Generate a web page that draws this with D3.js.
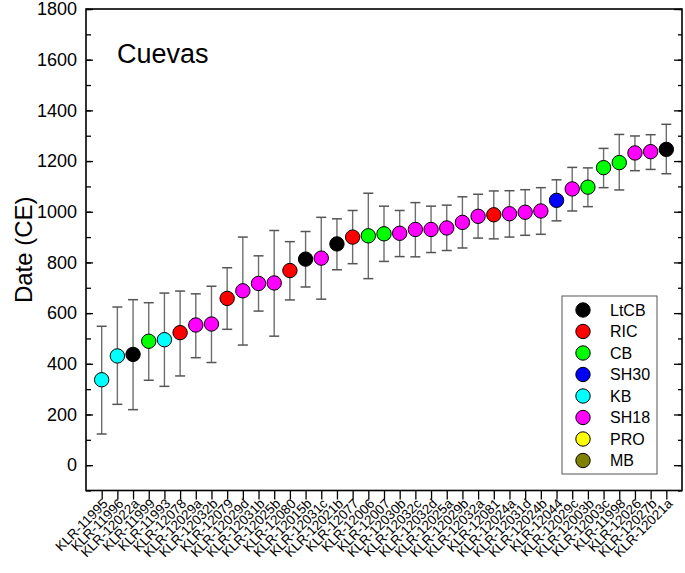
<!DOCTYPE html>
<html>
<head>
<meta charset="utf-8">
<script src="https://cdn.jsdelivr.net/npm/d3@7"></script>
<style>
  body { margin: 0; background: #fff; }
  svg { font-family: "Liberation Sans", Arial, sans-serif; }
</style>
</head>
<body>
<svg width="685" height="573"></svg>
<script>
// sample ids, in plotted order
const samples = [
  "KLR-11995", "KLR-11996", "KLR-12022a", "KLR-11999", "KLR-11993", "KLR-12078",
  "KLR-12029a", "KLR-12032b", "KLR-12079", "KLR-12029d", "KLR-12031b", "KLR-12025b",
  "KLR-12080", "KLR-12015b", "KLR-12031c", "KLR-12021b", "KLR-12077", "KLR-12006",
  "KLR-12007", "KLR-12030b", "KLR-12032c", "KLR-12032d", "KLR-12025a", "KLR-12029b",
  "KLR-12032a", "KLR-12081", "KLR-12024a", "KLR-12031d", "KLR-12024b", "KLR-12044",
  "KLR-12029c", "KLR-12003b", "KLR-12003c", "KLR-11998", "KLR-12026", "KLR-12027b",
  "KLR-12021a"
];
const groups = [
  "KB", "KB", "LtCB", "CB", "KB", "RIC",
  "SH18", "SH18", "RIC", "SH18", "SH18", "SH18",
  "RIC", "LtCB", "SH18", "LtCB", "RIC", "CB",
  "CB", "SH18", "SH18", "SH18", "SH18", "SH18",
  "SH18", "RIC", "SH18", "SH18", "SH18", "SH30",
  "SH18", "CB", "CB", "CB", "SH18", "SH18",
  "LtCB"
];
const dates = [
  337, 431, 437, 489, 495, 523, 553, 557, 658, 688, 717, 719,
  768, 813, 817, 873, 900, 905, 913, 915, 930, 930, 936, 958,
  982, 988, 992, 998, 1003, 1045, 1090, 1097, 1174, 1194, 1232, 1237,
  1246
];
const upper = [
  548, 624, 653, 641, 679, 687, 676, 706, 779, 900, 826, 926,
  882, 922, 978, 972, 1005, 1073, 1022, 1005, 1036, 1022, 1026, 1059,
  1069, 1082, 1083, 1087, 1095, 1126, 1175, 1173, 1250, 1305, 1299, 1304,
  1345
];
const lower = [
  123, 240, 219, 335, 311, 352, 424, 405, 536, 474, 608, 509,
  652, 703, 655, 771, 795, 736, 804, 823, 822, 839, 847, 857,
  896, 893, 900, 907, 911, 964, 1003, 1020, 1095, 1086, 1162, 1167,
  1150
];
const legendKeys = ["LtCB", "RIC", "CB", "SH30", "KB", "SH18", "PRO", "MB"];
const legendColors = ["#000000", "#ff0000", "#00ff00", "#0000ff", "#00ffff", "#ff00ff", "#ffff00", "#808000"];
const yTicks = [0, 200, 400, 600, 800, 1000, 1200, 1400, 1600, 1800];

const color = d3.scaleOrdinal().domain(legendKeys).range(legendColors);

const svg = d3.select("svg");
const pLeft = 86, pRight = 682, pTop = 9, pBottom = 490.5;

const x = d3.scaleLinear().domain([0, samples.length + 1]).range([pLeft, pRight]);
const y = d3.scaleLinear().domain([-100, 1800]).range([pBottom, pTop]);

const data = samples.map((s, i) => ({
  name: s, group: groups[i], date: dates[i], hi: upper[i], lo: lower[i], pos: i + 1
}));

// frame
svg.append("rect")
  .attr("x", pLeft).attr("y", pTop)
  .attr("width", pRight - pLeft).attr("height", pBottom - pTop)
  .attr("fill", "none").attr("stroke", "#000").attr("stroke-width", 1.6);

// left axis, ticks inward
const minor = d3.range(-100, 1801, 100);
svg.append("g")
  .attr("transform", `translate(${pLeft},0)`)
  .call(d3.axisRight(y).tickValues(minor).tickSize(5).tickFormat(""))
  .call(g => g.select(".domain").remove())
  .call(g => g.selectAll("line").attr("stroke-width", 1.3));
svg.append("g")
  .attr("transform", `translate(${pLeft},0)`)
  .call(d3.axisRight(y).tickValues(yTicks).tickSize(7).tickFormat(""))
  .call(g => g.select(".domain").remove())
  .call(g => g.selectAll("line").attr("stroke-width", 1.3));
svg.append("g")
  .selectAll("text")
  .data(yTicks)
  .join("text")
  .attr("x", pLeft - 9)
  .attr("y", d => y(d))
  .attr("dy", "0.35em")
  .attr("text-anchor", "end")
  .attr("font-size", 18)
  .text(d => d);

// right axis, ticks inward
svg.append("g")
  .attr("transform", `translate(${pRight},0)`)
  .call(d3.axisLeft(y).tickValues(minor).tickSize(4).tickFormat(""))
  .call(g => g.select(".domain").remove())
  .call(g => g.selectAll("line").attr("stroke-width", 1.3));
svg.append("g")
  .attr("transform", `translate(${pRight},0)`)
  .call(d3.axisLeft(y).tickValues(yTicks).tickSize(8).tickFormat(""))
  .call(g => g.select(".domain").remove())
  .call(g => g.selectAll("line").attr("stroke-width", 1.3));

// bottom axis
svg.append("g")
  .attr("transform", `translate(0,${pBottom})`)
  .call(d3.axisBottom(x).tickValues(d3.range(1, samples.length + 1)).tickSize(9).tickFormat(""))
  .call(g => g.select(".domain").remove())
  .call(g => g.selectAll("line").attr("stroke-width", 1.3));

svg.append("g")
  .selectAll("text")
  .data(data)
  .join("text")
  .attr("transform", d => `translate(${x(d.pos) + 7},${pBottom + 14}) rotate(-45)`)
  .attr("text-anchor", "end")
  .attr("font-size", 13.5)
  .text(d => d.name);

// y label
svg.append("text")
  .attr("transform", `translate(32,${y(850)}) rotate(-90)`)
  .attr("text-anchor", "middle")
  .attr("font-size", 24)
  .text("Date (CE)");

// title
svg.append("text")
  .attr("x", 117).attr("y", 63)
  .attr("font-size", 27)
  .text("Cuevas");

// error bars
const eb = svg.append("g");
eb.selectAll("line.v")
  .data(data)
  .join("line")
  .attr("class", "v")
  .attr("x1", d => x(d.pos)).attr("x2", d => x(d.pos))
  .attr("y1", d => y(d.hi)).attr("y2", d => y(d.lo))
  .attr("stroke", "#6e6e6e").attr("stroke-width", 1.4);
eb.selectAll("line.t")
  .data(data)
  .join("line")
  .attr("class", "t")
  .attr("x1", d => x(d.pos) - 5).attr("x2", d => x(d.pos) + 5)
  .attr("y1", d => y(d.hi)).attr("y2", d => y(d.hi))
  .attr("stroke", "#555").attr("stroke-width", 1.5);
eb.selectAll("line.b")
  .data(data)
  .join("line")
  .attr("class", "b")
  .attr("x1", d => x(d.pos) - 5).attr("x2", d => x(d.pos) + 5)
  .attr("y1", d => y(d.lo)).attr("y2", d => y(d.lo))
  .attr("stroke", "#555").attr("stroke-width", 1.5);

// points
svg.append("g")
  .selectAll("circle")
  .data(data)
  .join("circle")
  .attr("cx", d => x(d.pos))
  .attr("cy", d => y(d.date))
  .attr("r", 7.2)
  .attr("fill", d => color(d.group))
  .attr("stroke", "#000")
  .attr("stroke-width", 1);

// legend
const lg = svg.append("g");
const lgTop = 296, lgStep = 21.5;
lg.append("rect")
  .attr("x", 562).attr("y", lgTop)
  .attr("width", 95).attr("height", 178)
  .attr("fill", "#fff").attr("stroke", "#555").attr("stroke-width", 1);
const items = lg.selectAll("g")
  .data(legendKeys)
  .join("g")
  .attr("transform", (d, i) => `translate(583,${lgTop + 14 + i * lgStep})`);
items.append("circle")
  .attr("r", 7.2)
  .attr("fill", d => color(d))
  .attr("stroke", "#000").attr("stroke-width", 1);
items.append("text")
  .attr("x", 27)
  .attr("dy", "0.36em")
  .attr("font-size", 16)
  .text(d => d);
</script>
</body>
</html>
